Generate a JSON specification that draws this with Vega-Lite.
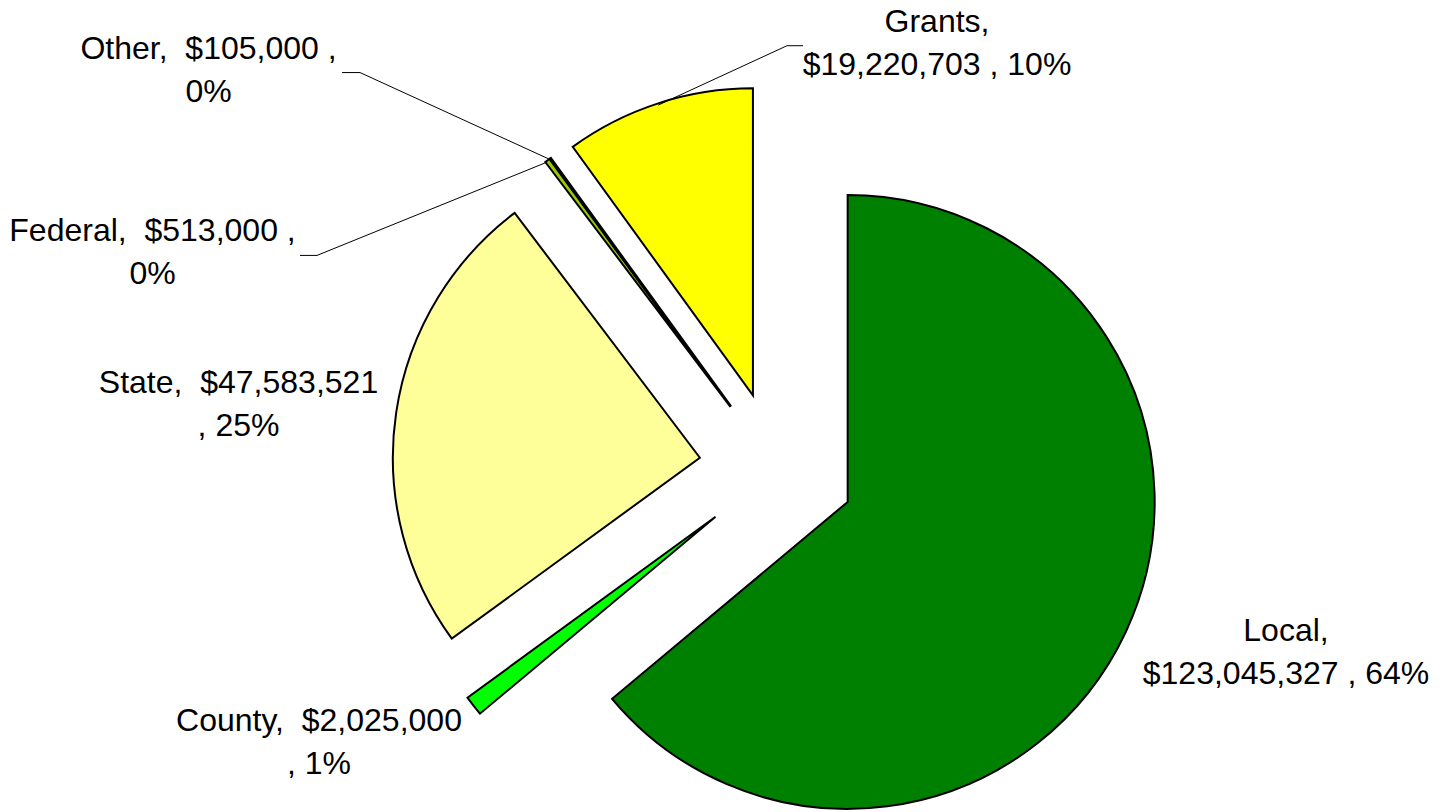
{
  "$schema": "https://vega.github.io/schema/vega-lite/v6.json",
  "width": 1450,
  "height": 812,
  "autosize": {"type": "fit", "contains": "padding"},
  "padding": 0,
  "background": "white",
  "config": {"view": {"stroke": null}},
  "data": {
    "values": [
      {"source": "Local", "value": 123045327, "order": 1},
      {"source": "County", "value": 2025000, "order": 2},
      {"source": "State", "value": 47583521, "order": 3},
      {"source": "Federal", "value": 513000, "order": 4},
      {"source": "Other", "value": 105000, "order": 5},
      {"source": "Grants", "value": 19220703, "order": 6}
    ]
  },
  "transform": [
    {"joinaggregate": [{"op": "sum", "field": "value", "as": "total"}]},
    {"window": [{"op": "sum", "field": "value", "as": "cum"}], "sort": [{"field": "order"}], "frame": [null, 0]},
    {"calculate": "(datum.cum - datum.value) / datum.total", "as": "f0"},
    {"calculate": "datum.cum / datum.total", "as": "f1"},
    {"calculate": "PI * (datum.f0 + datum.f1)", "as": "mid"},
    {"calculate": "78 * sin(datum.mid)", "as": "ox"},
    {"calculate": "78 * cos(datum.mid)", "as": "oy"},
    {"calculate": "385 * sin(datum.mid)", "as": "px"},
    {"calculate": "385 * cos(datum.mid)", "as": "py"},
    {"calculate": "format(datum.value, '$,')", "as": "money"},
    {"calculate": "format(datum.value / datum.total, '.0%')", "as": "pct"},
    {"calculate": "(datum.source == 'Grants' || datum.source == 'Local') ? datum.source + ',|' + datum.money + ' , ' + datum.pct : ((datum.source == 'State' || datum.source == 'County') ? datum.source + ',\u00a0 ' + datum.money + '|, ' + datum.pct : datum.source + ',\u00a0 ' + datum.money + ' ,|' + datum.pct)", "as": "label"},
    {"calculate": "datum.source == 'Grants' ? 160 : datum.source == 'Other' ? -568.5 : datum.source == 'Federal' ? -624.5 : datum.source == 'State' ? -538.5 : datum.source == 'County' ? -458 : 509", "as": "lx"},
    {"calculate": "datum.source == 'Grants' ? 440 : datum.source == 'Other' ? 413 : datum.source == 'Federal' ? 230 : datum.source == 'State' ? 77 : datum.source == 'County' ? -264 : -173", "as": "ly"},
    {"calculate": "datum.source == 'Grants' ? 10 : datum.source == 'Other' ? -417 : -460", "as": "ex"},
    {"calculate": "datum.source == 'Grants' ? 426 : datum.source == 'Other' ? 399 : 215", "as": "ey"},
    {"calculate": "datum.source == 'Grants' ? 26 : datum.source == 'Other' ? -435 : -477", "as": "hx"}
  ],
  "layer": [
    {
      "mark": {"type": "arc", "radius": 307, "stroke": "black", "strokeWidth": 2, "strokeJoin": "miter"},
      "encoding": {
        "theta": {"field": "f0", "type": "quantitative", "scale": {"domain": [0, 1]}, "stack": null},
        "theta2": {"field": "f1"},
        "x": {"field": "ox", "type": "quantitative", "scale": {"domain": [-777, 673], "nice": false, "zero": false}, "axis": null},
        "y": {"field": "oy", "type": "quantitative", "scale": {"domain": [-340, 472], "nice": false, "zero": false}, "axis": null},
        "color": {
          "field": "source",
          "type": "nominal",
          "scale": {"domain": ["Local", "County", "State", "Federal", "Other", "Grants"], "range": ["#008000", "#00FF00", "#FFFF99", "#99CC00", "#333300", "#FFFF00"]},
          "legend": null
        }
      }
    },
    {
      "transform": [{"filter": "indexof(['Grants','Other','Federal'], datum.source) >= 0"}],
      "mark": {"type": "rule", "stroke": "black", "strokeWidth": 1},
      "encoding": {
        "x": {"field": "ex", "type": "quantitative", "scale": {"domain": [-777, 673], "nice": false, "zero": false}, "axis": null},
        "y": {"field": "ey", "type": "quantitative", "scale": {"domain": [-340, 472], "nice": false, "zero": false}, "axis": null},
        "x2": {"field": "px"},
        "y2": {"field": "py"}
      }
    },
    {
      "transform": [{"filter": "indexof(['Grants','Other','Federal'], datum.source) >= 0"}],
      "mark": {"type": "rule", "stroke": "black", "strokeWidth": 1},
      "encoding": {
        "x": {"field": "hx", "type": "quantitative", "scale": {"domain": [-777, 673], "nice": false, "zero": false}, "axis": null},
        "y": {"field": "ey", "type": "quantitative", "scale": {"domain": [-340, 472], "nice": false, "zero": false}, "axis": null},
        "x2": {"field": "ex"}
      }
    },
    {
      "mark": {"type": "text", "align": "center", "baseline": "alphabetic", "font": "Liberation Sans", "fontSize": 32, "lineBreak": "|", "lineHeight": 43, "color": "black"},
      "encoding": {
        "x": {"field": "lx", "type": "quantitative", "scale": {"domain": [-777, 673], "nice": false, "zero": false}, "axis": null},
        "y": {"field": "ly", "type": "quantitative", "scale": {"domain": [-340, 472], "nice": false, "zero": false}, "axis": null},
        "text": {"field": "label", "type": "nominal"}
      }
    }
  ]
}
